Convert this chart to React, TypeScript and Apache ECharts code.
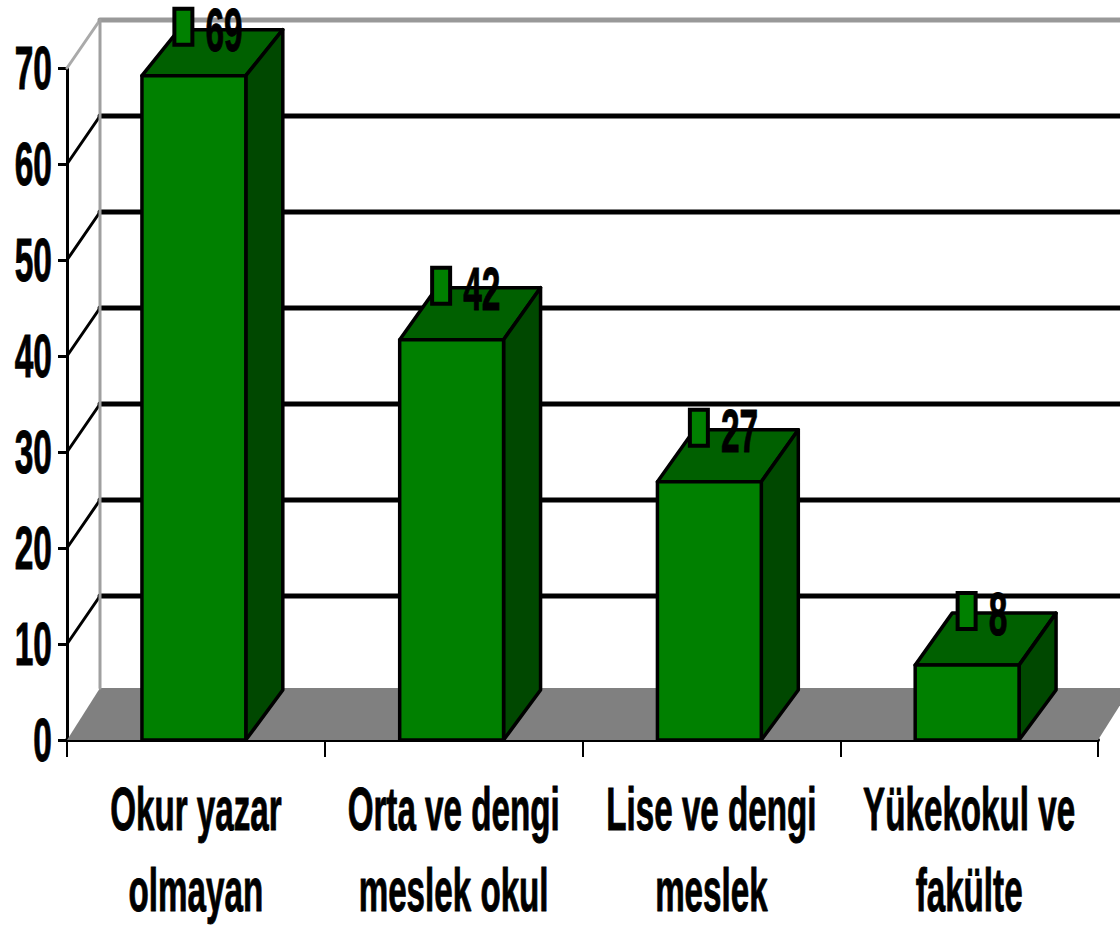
import React, { useEffect, useRef } from "react";
import * as echarts from "echarts";

const categories = ["Okur yazar\nolmayan", "Orta ve dengi\nmeslek okul", "Lise ve dengi\nmeslek", "Yükekokul ve\nfakülte"];
const values = [69.2, 41.7, 26.9, 7.8];
const yTicks = [0, 10, 20, 30, 40, 50, 60, 70];

const W = 1120, H = 926;
const FONT = '"Liberation Sans Narrow", "Liberation Sans", Arial, sans-serif';
const WALL_DX = 33, WALL_RISE = 48, FLOOR_RISE = 52;
const BAR_DX = 37, BAR_RISES = [46, 52, 52, 52], BAR_RATIO = 0.403, BAR_SHIFT = -2;
const NUM_SIZE = 62, NUM_SCALE = 0.54, CAT_SIZE = 62, CAT_SCALE = 0.535;

const line = (x1: number, y1: number, x2: number, y2: number, stroke: string, lineWidth = 3) => ({
  type: "line", shape: { x1, y1, x2, y2 }, style: { stroke, lineWidth, lineCap: "round" },
});

const scaledText = (text: string, x: number, y: number, size: number, scaleX: number, align: string) => ({
  type: "text", x, y, scaleX,
  style: {
    text, fill: "#000", stroke: "#000", lineWidth: 1, lineHeight: 50,
    font: `bold ${size}px ${FONT}`, align, verticalAlign: "middle",
  },
});

export default function App() {
  const ref = useRef<HTMLDivElement>(null);
  useEffect(() => {
    document.body.style.margin = "0";
    const chart = echarts.init(ref.current!, undefined, { renderer: "svg" });
    const xy = { xAxisIndex: 0, yAxisIndex: 0, coordinateSystem: "cartesian2d", silent: true, clip: false };
    chart.setOption({
      animation: false,
      backgroundColor: "#fff",
      tooltip: { show: false },
      grid: { left: 67, right: 22, top: 68, bottom: 186 },
      xAxis: {
        type: "category", data: categories, boundaryGap: true,
        axisLine: { lineStyle: { color: "#000", width: 4 } },
        axisTick: { show: true, length: 17, alignWithLabel: false, lineStyle: { color: "#000", width: 2 } },
        axisLabel: { show: false }, splitLine: { show: false },
      },
      yAxis: {
        type: "value", min: 0, max: 70, interval: 10,
        axisLine: { show: true, lineStyle: { color: "#000", width: 3 } },
        axisTick: { show: true, length: 9, lineStyle: { color: "#000", width: 3 } },
        axisLabel: { show: false }, splitLine: { show: false },
      },
      series: [
        {
          type: "custom", name: "floor", ...xy, z: 1, data: [[0, 0]],
          renderItem: (p: any) => {
            const c = p.coordSys, b = c.y + c.height, l = c.x, r = c.x + c.width;
            return {
              type: "polygon",
              shape: { points: [[l, b], [l + WALL_DX, b - FLOOR_RISE], [r + WALL_DX, b - FLOOR_RISE], [r, b]] },
              style: { fill: "#808080" },
            };
          },
        },
        {
          type: "custom", name: "walls", ...xy, z: 2,
          data: yTicks.filter((v) => v > 0).map((v) => [0, v]),
          renderItem: (p: any, api: any) => {
            const c = p.coordSys, v = api.value(1);
            const y = api.coord([0, v])[1];
            const color = v === 70 ? "#999999" : "#000";
            const children: any[] = [
              line(c.x, y, c.x + WALL_DX, y - WALL_RISE, v === 70 ? "#aaaaaa" : "#000", 3),
              line(c.x + WALL_DX, y - WALL_RISE, c.x + c.width + WALL_DX, y - WALL_RISE, color, 5),
            ];
            if (v === 70) {
              children.push(line(c.x + WALL_DX, y - WALL_RISE, c.x + WALL_DX, c.y + c.height - FLOOR_RISE, "#a0a0a0", 3));
            }
            return { type: "group", children };
          },
        },
        {
          type: "custom", name: "bars", ...xy, z: 3,
          data: values.map((v, i) => [i, v]),
          renderItem: (p: any, api: any) => {
            const i = api.value(0), v = api.value(1);
            const band = api.size([1, 0])[0];
            const w = band * BAR_RATIO;
            const [cx, top] = api.coord([i, v]);
            const [, base] = api.coord([i, 0]);
            const l = cx - w / 2 + BAR_SHIFT, r = l + w;
            const rise = BAR_RISES[i];
            const style = { stroke: "#000", lineWidth: 3.5, lineJoin: "round" };
            return {
              type: "group",
              children: [
                { type: "polygon", shape: { points: [[l, top], [r, top], [r + BAR_DX, top - rise], [l + BAR_DX, top - rise]] }, style: { ...style, fill: "#006000" } },
                { type: "polygon", shape: { points: [[r, top], [r + BAR_DX, top - rise], [r + BAR_DX, base - FLOOR_RISE + 2], [r, base]] }, style: { ...style, fill: "#004800" } },
                { type: "rect", shape: { x: l, y: top, width: w, height: base - top }, style: { ...style, fill: "#008000" } },
              ],
            };
          },
        },
        {
          type: "custom", name: "value labels", ...xy, z: 4,
          data: values.map((v, i) => [i, v]),
          renderItem: (p: any, api: any) => {
            const i = api.value(0), v = api.value(1);
            const text = String(Math.round(v));
            const [cx, top] = api.coord([i, v]);
            const mid = top - 49 - (BAR_RISES[i] === 46 ? 0 : 5);
            const mx = cx + BAR_SHIFT + 9.5 - text.length * 10;
            return {
              type: "group",
              children: [
                { type: "rect", shape: { x: mx - 9, y: mid - 18, width: 18, height: 36 }, style: { fill: "#008000", stroke: "#000", lineWidth: 4 } },
                scaledText(text, mx + 22, mid + 3, NUM_SIZE, NUM_SCALE, "left"),
              ],
            };
          },
        },
        {
          type: "custom", name: "y labels", ...xy, z: 5,
          data: yTicks.map((v) => [0, v]),
          renderItem: (p: any, api: any) => {
            const v = api.value(1);
            return scaledText(String(v), 52, api.coord([0, v])[1], NUM_SIZE, NUM_SCALE, "right");
          },
        },
        {
          type: "custom", name: "x labels", ...xy, z: 5,
          data: categories.map((_, i) => [i, 0]),
          renderItem: (p: any, api: any) => {
            const i = api.value(0);
            const [cx, b] = api.coord([i, 0]);
            const [a, c] = categories[i].split("\n");
            return {
              type: "group",
              children: [
                scaledText(a, cx, b + 69, CAT_SIZE, CAT_SCALE, "center"),
                scaledText(c, cx, b + 150, CAT_SIZE, CAT_SCALE, "center"),
              ],
            };
          },
        },
      ],
    });
    return () => chart.dispose();
  }, []);
  return <div ref={ref} style={{ width: W, height: H, overflow: "hidden" }} />;
}
